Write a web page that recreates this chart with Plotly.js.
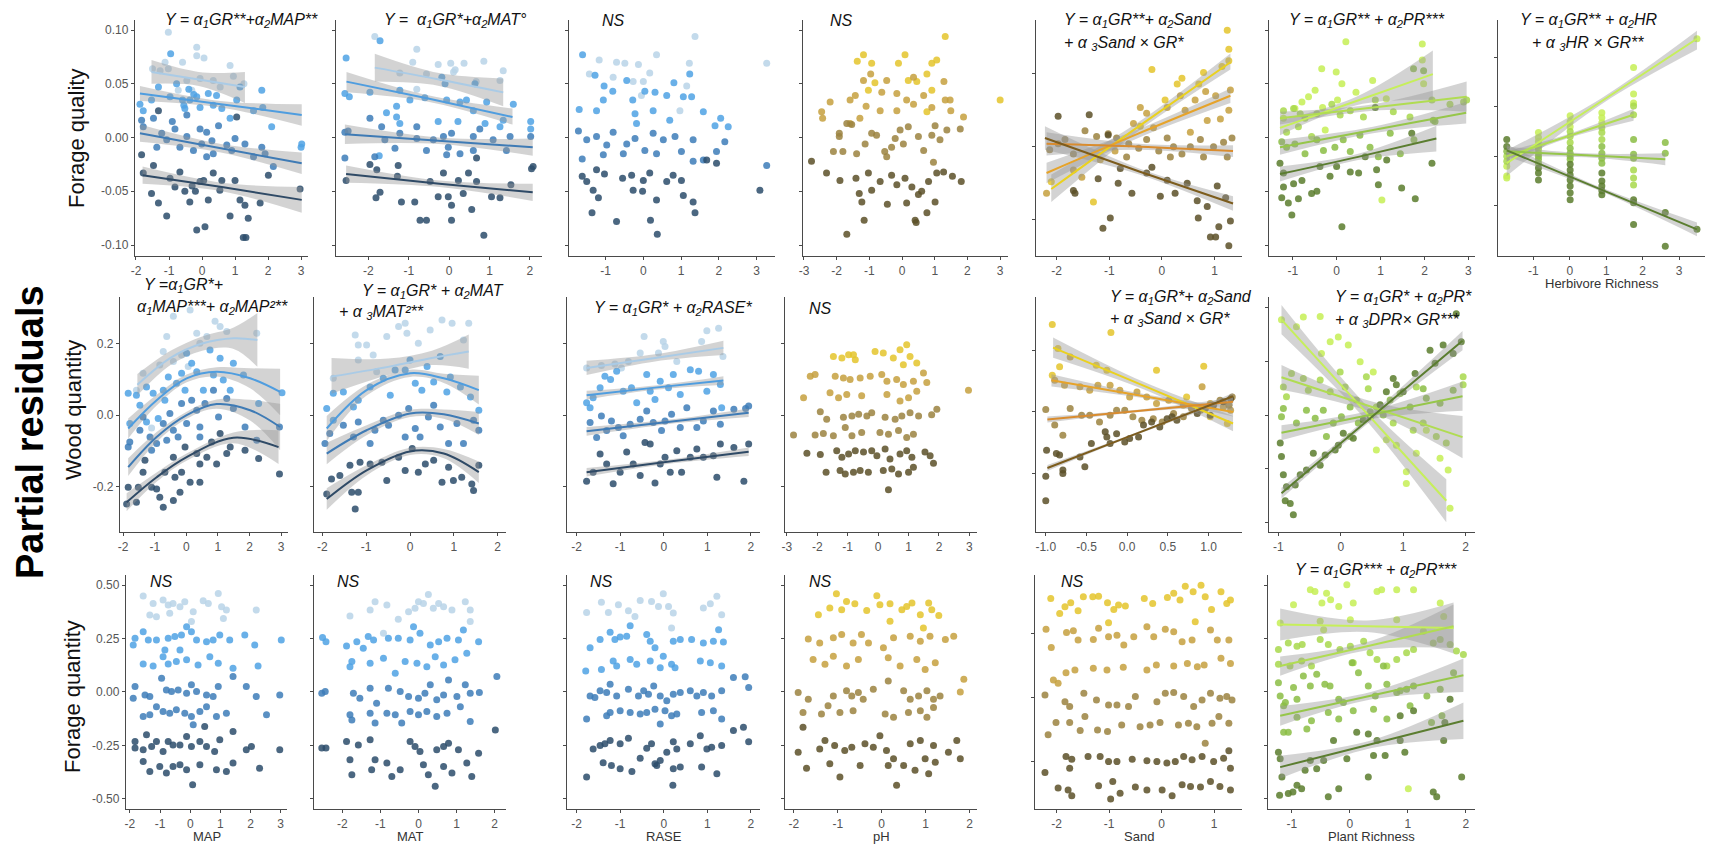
<!DOCTYPE html>
<html><head><meta charset="utf-8">
<script src="https://cdn.plot.ly/plotly-3.0.1.min.js"></script>
<style>html,body{margin:0;padding:0;background:#fff}#chart{width:1709px;height:846px}</style>
</head><body><div id="chart"></div>
<script>
// ===== DATA: partial residual points [x, y] per grazing (GR) group, 1 = lightest ... 4 = darkest =====
// Row 1 : Forage quality
const FQ_MAP_1=[[-1.02,.098],[-.16,.084],[-.16,.076],[.06,.074],[-.59,.07],[-1.12,.07],[-1.5,.064],[-1.27,.062],[-1.02,.064],[.85,.067],[.95,.057],[.34,.053],[-.46,.053],[-.06,.055],[-.31,.044],[1.27,.05],[-.72,.044],[.55,.047]];
const FQ_MAP_2=[[-.95,.078],[-1.88,.031],[-1.78,.025],[-1.53,.035],[-1.32,.047],[-.97,.038],[-.77,.05],[-.59,.035],[-.52,.027],[-.37,.035],[-.16,.038],[-.06,.028],[.19,.041],[.44,.039],[.85,.018],[1.05,.035],[1.81,.044],[1.84,.028],[2.11,.01],[3.02,-.006],[3,-.009],[1.56,.025],[1.15,.047],[.34,.03],[.6,.027],[-.4,.045],[-.25,.04],[-.55,.03]];
const FQ_MAP_3=[[-1.83,.016],[-1.78,.01],[-1.47,.018],[-1.22,.004],[-1.07,-.002],[-.82,.008],[-.67,-.009],[-.46,.001],[-.26,-.012],[-.01,-.006],[.14,.005],[.34,-.015],[.5,.011],[.75,-.007],[1,-.001],[1.3,-.006],[1.56,-.018],[1.81,-.009],[1.91,-.015],[2.16,-.027],[-.46,.021],[-.06,.008],[.14,-.018],[-1.37,-.009],[-.9,.015],[.3,-.003],[.9,-.012]];
const FQ_MAP_4=[[-1.83,-.016],[-1.78,-.033],[-1.47,-.026],[-1.53,-.052],[-1.32,-.061],[-1.07,-.073],[-.97,-.038],[-.82,-.046],[-.67,-.032],[-.52,-.05],[-.37,-.06],[-.16,-.086],[-.06,-.041],[.09,-.083],[.19,-.058],[.34,-.033],[.54,-.049],[.85,-.073],[1,-.04],[1.15,-.058],[1.3,-.063],[1.25,-.093],[1.33,-.093],[1.4,-.075],[1.76,-.061],[2.01,-.035],[2.97,-.048],[1.05,.019],[-1.32,.025],[-.3,-.045],[-.2,-.05],[.05,-.04],[.6,-.04]];
const FQ_MAT_1=[[-1.84,.094],[-.8,.082],[-.9,.07],[-.27,.068],[.04,.069],[.37,.069],[.86,.071],[1.34,.062],[-.56,.059],[.11,.061],[.15,.063],[-1.22,.06],[.67,.052],[1.26,.053],[-.8,.045]];
const FQ_MAT_2=[[-2.55,.074],[-1.71,.09],[-2.58,.041],[-2.47,.038],[-1.96,.042],[-1.22,.044],[-1.3,.029],[-.97,.035],[-.6,.037],[-.18,.056],[-.1,.05],[-.06,.035],[.27,.033],[.43,.035],[.64,.05],[.6,.025],[.93,.033],[1.26,.01],[1.34,.016],[1.59,.031],[-1.55,.023],[-1.3,.019],[-1.22,.013],[-.27,.015],[.22,.015],[.89,.013],[2.02,.015],[2.02,.008],[-1.73,-.017]];
const FQ_MAT_3=[[-2.58,.005],[-2.5,.006],[-1.96,.018],[-1.67,.01],[-1.59,-.002],[-1.34,-.01],[-1.22,.004],[-.8,.01],[-.8,-.001],[-.39,-.002],[-.14,.001],[-.02,-.009],[.06,.004],[.27,-.015],[.6,.001],[.76,.008],[1.09,-.002],[1.51,.001],[2.02,.001],[1.42,-.012],[.6,-.012],[-.56,-.012],[-.06,-.016],[-1.84,-.018],[-2.58,-.019]];
const FQ_MAT_4=[[-2.55,-.04],[-1.96,-.025],[-1.79,-.03],[-1.81,-.056],[-1.71,-.051],[-1.26,-.026],[-1.28,-.036],[-1.18,-.06],[-.85,-.06],[-.72,-.077],[-.56,-.077],[-.47,-.041],[-.27,-.055],[-.14,-.033],[-.02,-.055],[.06,-.077],[.06,-.063],[.23,-.04],[.35,-.052],[.48,-.033],[.56,-.067],[.68,-.041],[.86,-.091],[1.05,-.055],[1.26,-.056],[1.53,-.044],[2.04,-.029],[2.08,-.027],[.68,-.019]];
const FQ_RASE_1=[[1.37,.094],[-1.17,.072],[-.71,.07],[-.49,.069],[-.13,.068],[.35,.077],[1.22,.069],[-1.43,.059],[-.8,.056],[-.27,.052],[0,.052],[.17,.06],[-.05,.039],[1.15,.048],[3.27,.069],[.97,.025]];
const FQ_RASE_2=[[-1.61,.077],[-1.28,.058],[-1.04,.048],[-.81,.043],[-.44,.053],[-.28,.035],[.04,.043],[.31,.042],[.62,.039],[.81,.051],[1.06,.038],[1.23,.059],[1.28,.038],[-1.7,.026],[-1.24,.025],[-1.06,.035],[-.22,.022],[.26,.025],[1.59,.024],[1.9,.011],[2.05,.018],[2.25,.01],[-.18,.013],[.7,.016]];
const FQ_RASE_3=[[-1.72,.006],[-1.5,-.002],[-1.24,.001],[-.97,-.007],[-.8,.005],[-.44,-.006],[-.22,-.001],[.04,-.012],[.26,.004],[.53,-.002],[.84,.001],[1.01,-.013],[1.32,-.002],[2.16,-.004],[-1.62,-.02],[-1.06,-.016],[-.53,-.015],[.35,-.015],[1.32,-.022],[3.27,-.026],[1.59,-.021],[1.94,-.013]];
const FQ_RASE_4=[[-1.62,-.036],[-1.5,-.041],[-1.24,-.03],[-1.33,-.049],[-1.19,-.056],[-1.36,-.07],[-1.03,-.034],[-.71,-.078],[-.55,-.038],[-.31,-.035],[-.27,-.049],[0,-.04],[-.02,-.05],[.19,-.077],[.35,-.058],[.37,-.09],[.62,-.041],[.79,-.035],[1.01,-.04],[1.06,-.054],[1.32,-.06],[1.37,-.07],[1.68,-.021],[1.94,-.024],[3.09,-.049],[.17,-.033]];
const FQ_PH_1=[[1.32,.094],[-1.18,.077],[-1.37,.071],[-.93,.069],[.09,.077],[-.11,.069],[.91,.069],[1.06,.072],[.76,.059],[.45,.052],[-.83,.051],[-1.03,.044],[.91,.044],[.76,.024],[3,.035],[.19,.053]];
const FQ_PH_2=[[-2.46,.024],[-2.43,.018],[-2.2,.033],[-1.59,.035],[-1.43,.039],[-1.18,.053],[-.96,.059],[-.62,.042],[-.47,.053],[-.16,.041],[.14,.035],[.35,.056],[.66,.039],[1.28,.052],[1.32,.035],[1.47,.035],[-1.59,.013],[-1.29,.018],[-.67,.025],[-.16,.025],[.35,.031],[.91,.028],[1.49,.025],[1.88,.019],[-1.1,.029]];
const FQ_PH_3=[[-1.92,.004],[-1.92,.001],[-1.69,.013],[-1.54,.012],[-1.39,-.015],[-1.13,-.006],[-.93,.004],[-.78,.002],[-.53,-.013],[-.32,-.009],[-.21,-.001],[.04,-.006],[.19,.01],[.5,.001],[.66,-.012],[.91,.002],[1.16,-.002],[1.37,.007],[1.78,.008],[-2.1,-.013],[-1.81,-.013],[-.47,-.018],[.96,-.023],[1.01,.011],[-.06,.007]];
const FQ_PH_4=[[-2.77,-.022],[-2.31,-.033],[-1.9,-.04],[-1.41,-.038],[-1.31,-.052],[-1.23,-.06],[-1.16,-.077],[-1.69,-.09],[-1.03,-.033],[-.93,-.049],[-.67,-.041],[-.45,-.062],[-.32,-.035],[-.16,-.044],[.09,-.038],[.14,-.061],[.3,-.046],[.4,-.077],[.5,-.053],[.76,-.07],[.81,-.041],[1.01,-.06],[1.06,-.033],[1.27,-.032],[1.54,-.036],[1.81,-.041],[.43,-.079],[.6,-.05]];
const FQ_SAND_1=[[1.24,.08],[1.27,.067],[-.19,.053],[.29,.043],[.38,.047],[.79,.051],[.7,.043],[1.14,.055],[1.27,.059],[-1.3,-.038],[-.41,.014],[-2.1,-.024],[.06,.032]];
const FQ_SAND_2=[[-.41,.027],[-.29,.023],[.1,.027],[.35,.035],[.63,.032],[.83,.038],[1.02,.035],[1.11,.019],[1.3,.039],[1.27,.025],[-.54,.016],[-.16,.013],[.44,.025],[.86,.018],[-2.19,-.032],[-1.68,-.016],[-1.52,-.021],[-1.17,-.009],[-.89,-.003],[.54,.01]];
const FQ_SAND_3=[[-2.13,-.002],[-1.97,.002],[-1.84,.005],[-1.68,-.005],[-1.46,.011],[-1.24,.007],[-1.02,.009],[-.86,.006],[-.63,.002],[-.44,-.001],[-.29,.005],[-.06,-.003],[.1,.006],[.22,0],[.38,-.005],[.54,0],[.73,.005],[.98,0],[1.17,.003],[1.33,.006],[.16,-.007],[.79,-.007],[1.24,-.007],[-.67,-.007]];
const FQ_SAND_4=[[-1.97,.021],[-1.38,.022],[-1.02,.008],[-1.68,-.03],[-1.65,-.032],[-1.21,-.022],[-.98,-.049],[-1.12,-.056],[-.83,-.025],[-.57,-.032],[-.29,-.018],[-.03,-.034],[.1,-.023],[.25,-.032],[.48,-.025],[.67,-.037],[.69,-.049],[.86,-.041],[.92,-.062],[1.02,-.062],[1.08,-.055],[1.27,-.068],[1.3,-.051],[1.21,-.035],[1.05,-.027],[-.79,-.015],[-.19,-.014]];
const FQ_PR_1=[[.21,.089],[1.95,.087],[-.34,.064],[-.01,.061],[-.79,.033],[-.64,.038],[-.49,.044],[-.32,.028],[.02,.035],[.12,.05],[.44,.042],[.82,.053],[1.13,.036],[1.95,.072],[-.95,.027],[-.26,.007],[1.03,-.058],[-1.21,.018],[1.98,.05]];
const FQ_PR_2=[[-1.21,.025],[-.98,.027],[-.83,.022],[-.72,.018],[-.45,.022],[-.11,.031],[.08,.021],[.31,.025],[.61,.019],[.88,.035],[1.29,.024],[1.67,.019],[2.17,.035],[2.58,.031],[2.89,.033],[2.96,.035],[-1.14,.005],[-.87,.01],[-.57,.001]];
const FQ_PR_3=[[-1.25,-.004],[-1.14,-.009],[-.95,-.006],[-.72,-.015],[-.45,-.002],[-.3,-.012],[-.04,-.009],[.15,-.002],[.31,-.013],[.53,.002],[.76,-.009],[.95,-.018],[1.22,.004],[1.45,-.015],[1.76,-.002],[2.24,.015],[2.2,.016],[1.98,.062],[1.75,.064]];
const FQ_PR_4=[[-1.29,-.024],[-1.21,-.033],[-1.21,-.046],[-1.25,-.056],[-1.1,-.061],[-1.02,-.072],[-.98,-.043],[-.87,-.057],[-.79,-.04],[-.57,-.052],[-.45,-.05],[-.38,-.027],[-.15,-.036],[0,-.027],[.12,-.083],[.31,-.032],[.5,-.033],[.65,-.018],[.91,-.03],[.95,-.044],[1.14,-.021],[1.48,-.047],[1.71,.004],[1.79,-.057],[2.17,-.024],[.88,.028]];
const FQ_HR_1=[[-1.73,-.01],[-1.73,-.02],[-1.73,-.022],[-.86,.024],[-.86,.019],[-.86,.015],[.01,.041],[.01,.035],[.01,.03],[.88,.044],[.88,.039],[.88,.034],[1.75,.09],[1.75,.063],[1.75,.054],[3.49,.119]];
const FQ_HR_2=[[-1.73,0],[-1.73,-.005],[-.86,.01],[-.86,.007],[-.86,.003],[.01,.025],[.01,.02],[.01,.014],[.88,.029],[.88,.024],[.88,.017],[1.75,.051],[1.75,.042],[1.75,-.014],[1.75,-.022],[1.75,-.029]];
const FQ_HR_3=[[-1.73,.005],[-.86,0],[-.86,-.003],[-.86,-.007],[.01,.008],[.01,.003],[.01,0],[.01,-.003],[.88,.01],[.88,.003],[.88,-.002],[.88,-.007],[1.75,.017],[1.75,.002],[1.75,-.002],[2.62,.014],[2.62,.003]];
const FQ_HR_4=[[-1.73,.017],[-1.73,.01],[-.86,-.012],[-.86,-.017],[-.86,-.024],[.01,-.008],[.01,-.014],[.01,-.019],[.01,-.024],[.01,-.03],[.01,-.037],[.01,-.044],[.88,-.017],[.88,-.025],[.88,-.03],[.88,-.035],[.88,-.039],[1.75,-.044],[1.75,-.047],[1.75,-.069],[2.62,-.057],[2.62,-.091],[3.49,-.074]];
// Row 2 : Wood quantity
const WQ_MAP_1=[[-.62,.22],[-.41,.276],[.12,.294],[-.15,.168],[-.73,.178],[-.84,.14],[-1.37,.117],[-1.58,.07],[-.41,.15],[.33,.229],[.65,.22],[.91,.262],[1.28,.234],[1.07,.248],[2.23,.229],[.06,.136],[-1.1,-.036],[.43,.201]];
const WQ_MAP_2=[[-1.84,.061],[-1.58,.056],[-1.79,-.023],[-1.47,.028],[-1.26,.079],[-1.05,.061],[-.73,.07],[-.68,.042],[-.57,.107],[-.31,.089],[-.15,.117],[-.04,.07],[.01,.173],[.17,.145],[.33,.121],[.54,.07],[.75,.182],[.86,.112],[1.07,.159],[1.17,.098],[1.49,.145],[1.81,.112],[2.29,.033],[3.03,.063],[1.39,.07],[-.89,-.009],[-1.26,-.019]];
const WQ_MAP_3=[[-1.84,-.089],[-1.79,-.075],[-1.47,-.042],[-1.37,-.005],[-1.15,-.061],[-1.1,-.098],[-.94,-.079],[-.73,-.023],[-.52,.005],[-.41,-.042],[-.26,-.061],[-.15,.033],[.01,-.023],[.17,.042],[.33,.014],[.43,-.033],[.59,.033],[.86,.07],[1.02,-.005],[1.28,.047],[1.49,.019],[1.86,-.033],[2.23,-.07],[2.95,-.033],[.43,-.061],[-.62,-.07]];
const WQ_MAP_4=[[-1.89,-.248],[-1.84,-.201],[-1.58,-.243],[-1.52,-.201],[-1.37,-.159],[-1.31,-.126],[-1.1,-.201],[-.94,-.206],[-.84,-.229],[-.73,-.257],[-.68,-.159],[-.41,-.238],[-.36,-.173],[-.2,-.215],[-.15,-.159],[-.04,-.089],[.12,-.187],[.33,-.107],[.43,-.187],[.65,-.117],[.8,-.075],[.96,-.136],[1.07,-.051],[1.28,-.107],[1.39,-.089],[1.86,-.098],[2.29,-.121],[2.95,-.164],[.43,-.136],[-.41,-.117]];
const WQ_MAT_1=[[-1.25,.224],[-1.18,.196],[-1.18,.154],[-.99,.196],[-.53,.22],[-.26,.248],[-.11,.257],[-.07,.229],[.19,.201],[.46,.238],[.73,.266],[.96,.257],[1.22,.21],[1.34,.257],[-1.75,.103],[-.76,.121],[-.84,.168]];
const WQ_MAT_2=[[-1.9,.019],[-1.75,.061],[-1.52,.065],[-1.29,.023],[-1.18,.042],[-.91,.079],[-.61,.103],[-.45,.056],[-.34,.126],[-.11,.126],[0,.154],[.12,.089],[.27,.07],[.39,.136],[.54,.093],[.69,.164],[.84,.065],[.92,.107],[1.15,.079],[1.38,.051],[1.57,.014],[-1.75,-.014]];
const WQ_MAT_3=[[-1.94,-.079],[-1.83,-.051],[-1.52,-.028],[-1.29,-.061],[-1.18,-.019],[-.91,-.079],[-.8,-.042],[-.61,-.014],[-.49,-.028],[-.26,0],[-.11,-.061],[-.03,.019],[.12,-.037],[.23,-.061],[.42,-.005],[.54,.028],[.69,-.033],[.88,-.079],[1.07,-.023],[1.22,-.079],[1.45,-.014],[1.57,-.042]];
const WQ_MAT_4=[[-1.9,-.22],[-1.79,-.178],[-1.6,-.168],[-1.37,-.14],[-1.33,-.215],[-1.25,-.262],[-1.18,-.215],[-1.14,-.131],[-.91,-.136],[-.64,-.131],[-.53,-.182],[-.26,-.117],[-.11,-.154],[.05,-.093],[.19,-.159],[.35,-.136],[.54,-.126],[.73,-.187],[.88,-.145],[.99,-.182],[1.18,-.173],[1.41,-.192],[1.45,-.21],[1.57,-.14]];
const WQ_RASE_1=[[-1.77,.132],[-1.43,.139],[-1.12,.143],[-.81,.15],[-.54,.174],[-.45,.22],[-.12,.174],[-.01,.206],[.03,.192],[.3,.15],[.87,.206],[.99,.236],[1.26,.243],[1.36,.164],[-.97,.132]];
const WQ_RASE_2=[[-1.69,.021],[-1.62,.049],[-1.46,.077],[-1.35,.109],[-1.22,.1],[-1.08,.123],[-.93,.067],[-.74,.077],[-.62,.035],[-.39,.114],[-.31,.067],[-.2,.044],[-.08,.095],[.11,.077],[.22,.114],[.38,.058],[.61,.127],[.8,.123],[.99,.067],[1.14,.114],[1.3,.086],[1.33,.021],[-1.77,.035]];
const WQ_RASE_3=[[-1.69,-.02],[-1.54,-.062],[-1.43,-.002],[-1.31,-.043],[-1.2,-.016],[-1.04,-.034],[-.93,-.057],[-.77,-.025],[-.54,-.011],[-.39,.012],[-.24,-.02],[-.05,-.043],[.03,-.016],[.18,.003],[.38,-.034],[.53,.021],[.76,-.034],[.91,-.016],[1.14,.012],[1.3,-.025],[1.61,.017],[1.88,.019],[1.95,.026]];
const WQ_RASE_4=[[-1.77,-.184],[-1.62,-.159],[-1.46,-.108],[-1.31,-.136],[-1.16,-.191],[-1,-.159],[-.85,-.103],[-.7,-.136],[-.54,-.168],[-.43,-.076],[-.31,-.08],[-.2,-.189],[-.08,-.136],[.03,-.117],[.15,-.159],[.3,-.099],[.41,-.159],[.61,-.117],[.76,-.094],[.91,-.117],[1.14,-.113],[1.3,-.08],[1.22,-.173],[1.61,-.09],[1.84,-.184],[1.95,-.08]];
const WQ_PH_1=[[-1.47,.164],[-1.19,.16],[-.97,.169],[-.75,.155],[-.1,.178],[.17,.174],[.5,.16],[.72,.183],[.94,.197],[1.05,.164],[1.27,.146],[-.81,.169],[.83,.141]];
const WQ_PH_2=[[-2.23,.109],[-2.07,.114],[-1.41,.109],[-1.14,.104],[-.92,.1],[-.59,.104],[-.26,.109],[.12,.114],[.29,.095],[.61,.1],[.83,.086],[1.16,.095],[1.49,.118],[1.6,.091],[-2.45,.049],[-1.58,.063],[-1.3,.049],[-1.03,.058],[-.54,.054],[.29,.058],[.72,.04],[1,.049],[1.27,.067],[2.97,.07]];
const WQ_PH_3=[[-1.9,.01],[-1.69,-.011],[-1.14,-.006],[-.86,-.002],[-.64,.003],[-.37,-.002],[-.21,.007],[.23,-.006],[.56,-.011],[.78,-.002],[1.05,.007],[1.33,-.002],[1.93,.017],[1.76,.001],[-2.78,-.055],[-2.07,-.055],[-1.8,-.051],[-1.47,-.057],[-1.08,-.034],[-.86,-.057],[-.54,-.048],[.06,-.048],[.34,-.053],[.67,-.043],[.94,-.062],[1.16,-.053]];
const WQ_PH_4=[[-2.34,-.106],[-1.9,-.11],[-1.36,-.099],[-1.19,-.117],[-.97,-.108],[-.75,-.099],[-.48,-.103],[-.21,-.099],[-.04,-.113],[.23,-.094],[.39,-.122],[.72,-.108],[.94,-.099],[1.11,-.117],[1.54,-.103],[1.71,-.113],[1.82,-.134],[-1.71,-.159],[-1.25,-.154],[-1.08,-.164],[-.81,-.159],[-.59,-.154],[-.32,-.159],[.17,-.154],[.45,-.15],[.67,-.164],[1,-.159],[1.16,-.145],[.34,-.208]];
const WQ_SAND_1=[[-.92,.285],[-.2,.259],[-.85,.207],[-.83,.147],[-.38,.152],[-.25,.136],[.36,.136],[.73,.049],[.94,.149],[1.02,-.016],[1.23,-.038],[-.92,.12]];
const WQ_SAND_2=[[-.89,.103],[-.77,.087],[-.7,.179],[-.58,.082],[-.46,.071],[-.36,.087],[-.21,.087],[-.09,.071],[.03,.049],[.12,.065],[.24,.049],[.36,.027],[.51,.038],[.69,.022],[.92,.082],[1.02,.027],[1.18,.016],[1.27,.005]];
const WQ_SAND_3=[[-1,.008],[-.89,-.043],[-.79,-.076],[-.7,.011],[-.56,-.011],[-.46,-.011],[-.34,-.033],[-.21,-.011],[-.13,.005],[-.03,.005],[.07,-.016],[.18,-.027],[.32,-.022],[.43,-.033],[.57,-.005],[.69,-.016],[.79,.011],[.9,.005],[1.02,.022],[1.14,.038],[1.25,.022],[1.29,.049]];
const WQ_SAND_4=[[-1,-.21],[-.99,-.125],[-1,-.29],[-.87,-.136],[-.83,-.141],[-.79,-.19],[-.79,-.201],[-.58,-.147],[-.52,-.179],[-.44,-.103],[-.27,-.065],[-.25,-.082],[-.21,-.103],[-.13,-.071],[-.03,-.098],[.03,-.087],[.14,-.082],[.2,-.043],[.3,-.033],[.4,-.049],[.49,-.022],[.55,-.016],[.61,-.027],[.86,-.005],[.96,.011],[1.06,.022],[1.18,.033],[1.27,.043],[1.02,-.011]];
const WQ_PR_1=[[-.95,.177],[-.71,.164],[-.6,.182],[-.33,.183],[-.31,.114],[-.17,.136],[-.04,.145],[.12,.13],[.31,.099],[.52,.08],[.73,-.046],[1.05,-.105],[1.21,-.071],[1.37,-.028],[1.59,-.08],[1.72,-.102],[1.75,-.173],[1.05,-.127],[.89,-.056],[.57,-.065]];
const WQ_PR_2=[[-.92,.052],[-.87,.034],[-.79,.077],[-.6,.068],[-.52,.046],[-.33,.065],[-.17,.043],[-.01,.08],[.07,.052],[.25,.028],[.41,.071],[.44,.049],[.57,.015],[.84,-.015],[1.16,-.028],[1.32,-.015],[1.53,-.04],[1.69,-.052],[1.96,.071],[1.96,.056],[1.21,.052]];
const WQ_PR_3=[[-.95,-.003],[-.92,.012],[-.71,-.015],[-.55,.009],[-.41,-.006],[-.28,.009],[-.12,-.015],[.01,-.003],[.15,.015],[.28,-.015],[.47,.006],[.68,0],[.79,.028],[.95,.04],[1.11,.015],[1.37,.031],[1.59,.022],[1.8,.046],[.15,-.04],[-.23,-.04],[1.32,.049]];
const WQ_PR_4=[[-.97,-.052],[-.95,-.077],[-.92,-.111],[-.87,-.133],[-.89,-.159],[-.81,-.164],[-.76,-.185],[-.73,-.13],[-.65,-.111],[-.55,-.102],[-.44,-.071],[-.33,-.093],[-.25,-.074],[-.09,-.065],[-.04,-.056],[.04,-.034],[.2,-.043],[.36,-.009],[.47,-.003],[.63,.019],[.73,.043],[.84,.068],[.89,.056],[1,.043],[1.19,.077],[1.43,.12],[1.51,.096],[1.64,.13],[1.8,.114],[1.93,.136],[1.85,.188]];
// Row 3 : Forage quantity
const FT_MAP_1=[[-1.56,.449],[-1.34,.36],[-1.23,.414],[-.9,.43],[-.73,.407],[-.57,.414],[-.34,.399],[-.18,.422],[.1,.375],[.04,.329],[.43,.427],[.6,.414],[.93,.461],[1.04,.399],[1.2,.383],[1.1,.344],[2.19,.383],[-.68,.368],[-1.12,.352]];
const FT_MAP_2=[[-1.83,.251],[-1.89,.22],[-1.56,.282],[-1.39,.243],[-1.12,.243],[-.84,.196],[-.73,.251],[-.51,.259],[-.29,.266],[-.12,.305],[.04,.282],[.21,.243],[.54,.235],[.76,.243],[.98,.266],[1.31,.243],[1.81,.266],[2.14,.22],[3.02,.243],[-1.56,.131],[-1.23,.121],[-.9,.165],[-.73,.131],[-.46,.142],[-.12,.15],[.26,.126],[.65,.165],[.93,.134],[1.42,.111],[2.25,.121],[-.34,.196]];
const FT_MAP_3=[[-1.83,.025],[-1.89,-.03],[-1.5,-.014],[-1.34,-.022],[-.95,.064],[-.79,.009],[-.62,.002],[-.4,.009],[-.12,-.006],[.04,.033],[.21,.002],[.54,-.014],[.76,-.022],[.93,.025],[1.42,.072],[1.86,.025],[2.19,-.022],[2.97,-.014],[-1.56,-.115],[-1.34,-.107],[-1.12,-.069],[-.9,-.092],[-.68,-.1],[-.46,-.084],[-.18,-.1],[.04,-.115],[.32,-.092],[.54,-.069],[.87,-.115],[1.2,-.1],[2.53,-.107],[.1,-.154]];
const FT_MAP_4=[[-1.83,-.232],[-1.83,-.263],[-1.56,-.271],[-1.45,-.201],[-1.28,-.255],[-1.12,-.232],[-.9,-.279],[-.73,-.232],[-.57,-.248],[-.34,-.248],[-.12,-.209],[.04,-.255],[.32,-.232],[.54,-.255],[.81,-.279],[.98,-.224],[1.42,-.185],[1.86,-.271],[2.03,-.255],[2.97,-.271],[-1.56,-.326],[-1.34,-.372],[-1.01,-.349],[-.79,-.38],[-.57,-.349],[-.34,-.341],[-.12,-.364],[.08,-.435],[.32,-.341],[.48,-.162],[.87,-.364],[1.2,-.372],[1.42,-.333],[2.3,-.357]];
const FT_MAT_1=[[-1.8,.355],[-1.27,.383],[-1.14,.422],[-.83,.407],[-.53,.34],[-.26,.375],[-.09,.391],[0,.422],[.13,.414],[.26,.456],[.39,.391],[.53,.414],[.66,.399],[.88,.383],[1.23,.422],[1.36,.383],[1.36,.329],[-.92,.274]];
const FT_MAT_2=[[-2.52,.255],[-2.43,.235],[-1.89,.215],[-1.62,.235],[-1.45,.204],[-1.32,.259],[-1.18,.243],[-.79,.251],[-.53,.251],[-.22,.243],[-.13,.305],[.04,.274],[.31,.22],[.53,.235],[.75,.251],[1.05,.243],[1.18,.29],[1.27,.181],[1.58,.235],[-1.8,.118],[-1.75,.142],[-1.27,.134],[-.92,.157],[-.61,.087],[-.35,.142],[-.04,.134],[.22,.118],[.44,.165],[.66,.126],[.96,.15]];
const FT_MAT_3=[[-2.54,-.006],[-2.45,.002],[-1.71,-.006],[-1.54,-.03],[-1.27,.017],[-1.1,-.053],[-.79,.017],[-.48,.002],[-.26,-.022],[0,-.03],[.17,-.006],[.31,.033],[.48,-.037],[.66,-.014],[.79,.056],[1.01,-.022],[1.23,.033],[1.36,-.006],[1.6,-.003],[2.06,.072],[-1.8,-.107],[-1.75,-.131],[-1.27,-.1],[-1.14,-.146],[-.83,-.1],[-.61,-.107],[-.44,-.146],[-.22,-.092],[0,-.107],[.22,-.092],[.48,-.115],[.75,-.1],[1.1,-.069],[1.36,-.139]];
const FT_MAT_4=[[-2.54,-.263],[-2.43,-.263],[-1.89,-.232],[-1.8,-.318],[-1.75,-.388],[-1.58,-.248],[-1.27,-.224],[-1.23,-.364],[-1.14,-.318],[-.83,-.333],[-.7,-.396],[-.48,-.364],[-.22,-.232],[-.09,-.255],[.04,-.279],[.13,-.341],[.26,-.388],[.44,-.442],[.48,-.271],[.66,-.255],[.66,-.349],[.79,-.24],[.88,-.38],[1.05,-.271],[1.27,-.333],[1.4,-.396],[1.58,-.287],[2.02,-.178]];
const FT_RASE_1=[[-1.77,.372],[-1.43,.419],[-1.27,.372],[-1.04,.408],[-.81,.38],[-.66,.353],[-.54,.428],[-.28,.423],[-.12,.4],[-.01,.459],[.11,.4],[.22,.369],[.91,.392],[1.07,.412],[1.22,.447],[1.33,.361],[.18,.299]];
const FT_RASE_2=[[-1.79,.098],[-1.69,.206],[-1.46,.245],[-1.23,.279],[-1.12,.245],[-1,.257],[-.85,.26],[-.77,.31],[-.39,.268],[-.31,.237],[-.2,.206],[-.01,.167],[.22,.237],[.38,.245],[.64,.245],[.91,.229],[1.14,.237],[1.26,.291],[1.37,.233],[-1.43,.105],[-1.16,.144],[-1.08,.121],[-.77,.152],[-.62,.129],[-.31,.144],[-.08,.113],[.18,.129],[.26,.113],[.84,.144],[1.07,.136],[1.33,.121]];
const FT_RASE_3=[[-1.77,-.127],[-1.69,-.019],[-1.58,-.026],[-1.46,.005],[-1.31,-.003],[-1.23,.036],[-1.08,-.019],[-.81,.012],[-.58,-.019],[-.46,.005],[-.35,-.011],[-.23,.028],[-.08,-.019],[.07,-.042],[.22,-.011],[.38,-.003],[.61,.005],[.76,-.019],[.91,-.003],[1.1,-.019],[1.33,.005],[1.6,.067],[1.87,.071],[1.95,.02],[-1.31,-.112],[-1.23,-.096],[-1,-.088],[-.77,-.096],[-.54,-.104],[-.39,-.096],[-.2,-.081],[.03,-.088],[.18,-.112],[.3,-.104],[.87,-.096],[1.14,-.088],[1.33,-.127],[-.08,-.15]];
const FT_RASE_4=[[-1.77,-.398],[-1.62,-.267],[-1.46,-.251],[-1.35,-.243],[-1.23,-.228],[-1,-.243],[-.81,-.217],[-.54,-.31],[-.39,-.264],[-.28,-.243],[-.2,-.336],[-.08,-.321],[.07,-.282],[.22,-.233],[.3,-.267],[.38,-.352],[.22,-.36],[.61,-.243],[.84,-.205],[.99,-.267],[1.1,-.259],[1.33,-.251],[-1.39,-.332],[-1.2,-.344],[-1,-.36],[-.73,-.372],[-.16,-.344],[.87,-.352],[1.22,-.383],[1.6,-.181],[1.83,-.166],[1.95,-.233],[.21,-.437]];
const FT_PH_1=[[-1.44,.361],[-1.18,.392],[-1.03,.459],[-.91,.384],[-.8,.423],[-.61,.412],[-.34,.381],[-.11,.45],[-.04,.408],[.19,.412],[.19,.33],[.46,.384],[.57,.4],[.69,.416],[.88,.361],[1.07,.416],[1.14,.384],[1.3,.357],[.95,.299]];
const FT_PH_2=[[-1.67,.248],[-1.41,.229],[-1.1,.253],[-.91,.268],[-.65,.229],[-.46,.268],[-.3,.229],[.04,.206],[.27,.253],[.65,.26],[.88,.237],[1.1,.26],[1.45,.245],[1.64,.26],[-1.56,.152],[-1.29,.129],[-1.1,.167],[-.8,.121],[-.53,.152],[.15,.16],[.42,.121],[.8,.152],[.99,.105],[1.22,.136],[1.87,.059],[1.79,0]];
const FT_PH_3=[[-1.9,-.003],[-1.79,-.096],[-1.67,-.034],[-1.37,-.104],[-1.22,-.065],[-1.1,-.019],[-.8,.005],[-.68,-.019],[-.53,-.003],[-.42,-.034],[-.19,.012],[.15,.051],[.08,-.104],[.27,-.119],[.5,.005],[.65,-.034],[.84,-.019],[1.03,.005],[1.18,-.034],[1.33,-.019],[.61,-.096],[.88,-.088],[1.03,-.119],[-.95,-.096],[-.65,-.088],[1.18,-.073]];
const FT_PH_4=[[-1.9,-.282],[-1.71,-.357],[-1.79,-.166],[-1.41,-.267],[-1.29,-.228],[-1.18,-.336],[-1.07,-.251],[-.95,-.398],[-.84,-.274],[-.68,-.259],[-.49,-.344],[-.38,-.243],[-.19,-.259],[-.04,-.205],[.11,-.274],[.15,-.344],[.34,-.437],[.27,-.313],[.5,-.344],[.65,-.243],[.76,-.367],[.88,-.228],[.99,-.313],[1.07,-.383],[1.18,-.251],[1.22,-.329],[1.52,-.282],[1.71,-.228],[1.79,-.313]];
const FT_SAND_1=[[-2.11,.389],[-1.94,.33],[-1.84,.356],[-1.73,.372],[-1.59,.341],[-1.49,.396],[-1.31,.396],[-1.2,.398],[-1.03,.372],[-.91,.346],[-.82,.363],[-.69,.359],[-.33,.389],[-.17,.369],[.11,.393],[.23,.409],[.35,.383],[.45,.437],[.6,.415],[.75,.441],[.83,.396],[.95,.346],[1.13,.415],[1.24,.369],[1.31,.383],[-1.01,.294],[.64,.298]];
const FT_SAND_2=[[-2.2,.268],[-2.1,.197],[-1.81,.255],[-1.68,.262],[-1.59,.226],[-1.3,.228],[-1.2,.272],[-1.01,.239],[-.85,.245],[-.72,.206],[-.53,.239],[-.28,.278],[-.15,.239],[.07,.268],[.23,.258],[.39,.219],[.58,.226],[.93,.265],[1.06,.226],[1.28,.226],[-1.82,.098],[-1.65,.108],[-1.3,.115],[-1.04,.108],[-.73,.119],[-.28,.108],[-.1,.128],[.23,.124],[.49,.134],[.68,.121],[.81,.128],[1.13,.154],[1.31,.134],[-2.06,.069],[-1.97,.056]];
const FT_SAND_3=[[-2.22,.01],[-1.84,-.016],[-1.75,-.035],[-1.48,.017],[-1.24,-.009],[-1.01,-.029],[-.85,-.029],[-.63,-.035],[-.5,.004],[-.09,-.016],[.07,.017],[.23,.02],[.42,.004],[.61,-.035],[.77,-.009],[.93,.017],[1.11,-.003],[1.24,.004],[1.34,-.009],[-2.16,-.146],[-2.01,-.098],[-1.75,-.098],[-1.55,-.129],[-1.46,-.074],[-1.22,-.127],[-1.03,-.133],[-.76,-.107],[-.41,-.114],[-.22,-.107],[-.03,-.098],[.32,-.107],[.51,-.101],[.67,-.114],[.96,-.101],[1.09,-.074],[1.28,-.101],[.83,-.179]];
const FT_SAND_4=[[-2.22,-.294],[-1.82,-.231],[-1.71,-.242],[-1.75,-.277],[-1.4,-.231],[-1.17,-.231],[-1.01,-.251],[-.85,-.251],[-.56,-.242],[-.28,-.248],[-.09,-.251],[.1,-.257],[.26,-.251],[.42,-.231],[.58,-.244],[.77,-.231],[.99,-.251],[1.18,-.238],[1.28,-.208],[1.31,-.277],[-1.97,-.355],[-1.78,-.362],[-1.71,-.385],[-1.2,-.346],[-.97,-.398],[-.79,-.375],[-.5,-.351],[-.28,-.362],[.01,-.362],[.2,-.385],[.39,-.342],[.55,-.349],[.74,-.351],[.93,-.329],[1.11,-.349],[1.31,-.362],[-.93,-.329]];
const FT_PR_1=[[-.97,.408],[-.68,.478],[-.6,.47],[-.4,.462],[-.48,.416],[-.33,.431],[-.19,.4],[-.05,.501],[.06,.416],[.47,.47],[.55,.478],[.81,.478],[1.1,.478],[1.56,.416],[-.51,.33],[-.45,.291],[.01,.338],[.81,.338],[1.27,.284],[-1.2,.322],[1.62,.353],[1.01,-.453]];
const FT_PR_2=[[-1.23,.198],[-1.06,.229],[-.91,.214],[-.82,.222],[-1.23,.129],[-1.03,.121],[-.83,.144],[-.66,.121],[-.51,.245],[-.37,.222],[-.17,.198],[.01,.214],[.06,.136],[.24,.237],[.35,.183],[.47,.152],[.64,.121],[.81,.152],[.98,.183],[1.1,.198],[1.44,.229],[1.56,.245],[1.73,.222],[1.84,.191],[1.96,.175]];
const FT_PR_3=[[-1.23,.043],[-1.2,-.019],[-1.14,-.065],[-1.11,-.05],[-.97,.02],[-.91,-.034],[-.8,.074],[-.68,.028],[-.57,.082],[-.43,.036],[-.34,.028],[-.19,-.034],[-.11,-.05],[.04,.136],[.15,.09],[.32,.028],[.44,-.019],[.58,.121],[.64,.036],[.81,-.003],[.98,.012],[1.1,.028],[1.33,-.019],[1.56,.012],[1.79,.09],[-1.14,-.189],[-1.06,-.189],[-.91,-.119],[-.74,-.174],[-.66,-.135],[-.37,-.096],[-.19,-.127],[.06,-.088],[.41,-.081],[.64,-.127],[.87,.005],[1.04,-.065],[1.41,-.143],[1.59,-.112]];
const FT_PR_4=[[-1.23,-.282],[-1.2,-.313],[-1.17,-.398],[-1.21,-.484],[-1.06,-.476],[-.98,-.468],[-.91,-.437],[-.83,-.453],[-.77,-.367],[-.68,-.321],[-.57,-.36],[-.45,-.321],[-.37,-.491],[-.28,-.228],[-.19,-.453],[-.05,-.313],[.12,-.189],[.32,-.398],[.32,-.197],[.47,-.228],[.61,-.298],[.87,-.228],[.87,-.112],[.95,-.282],[1.1,-.088],[1.44,-.468],[1.5,-.491],[1.62,-.228],[1.64,-.143],[1.73,-.034],[1.93,-.398],[.41,-.298]];

// ===== FITTED LINES: [group, x, fitted y, lower CI, upper CI] =====
const FQ_MAP_FIT=[[1,[-1.53,-.1,1.3],[.061,.054,.047],[.05,.048,.032],[.072,.061,.061]],[2,[-1.88,.57,3.02],[.041,.031,.021],[.034,.028,.011],[.048,.034,.031]],[3,[-1.88,.57,3.02],[.004,-.01,-.024],[-.004,-.014,-.034],[.012,-.006,-.014]],[4,[-1.8,.6,3.02],[-.035,-.046,-.058],[-.043,-.05,-.07],[-.027,-.042,-.046]]];
const FQ_MAT_FIT=[[1,[-1.84,-.25,1.34],[.065,.054,.042],[.052,.048,.029],[.078,.06,.055]],[2,[-2.54,-.49,1.57],[.052,.036,.019],[.042,.033,.012],[.061,.039,.027]],[3,[-2.58,-.26,2.07],[.003,-.003,-.009],[-.006,-.006,-.017],[.012,0,-.001]],[4,[-2.55,-.24,2.07],[-.034,-.043,-.051],[-.042,-.046,-.059],[-.026,-.04,-.043]]];
const FQ_SAND_FIT=[[1,[-2.1,-.4,1.3],[-.029,.015,.058],[-.038,.012,.053],[-.019,.018,.064]],[2,[-2.19,-.45,1.3],[-.018,.009,.035],[-.025,.006,.03],[-.011,.012,.04]],[3,[-2.19,-.42,1.35],[.002,0,-.003],[-.006,-.002,-.007],[.01,.002,.001]],[4,[-2.22,-.43,1.35],[.006,-.017,-.039],[-.002,-.019,-.044],[.014,-.015,-.034]]];
const FQ_PR_FIT=[[1,[-1.29,.45,2.19],[.009,.034,.059],[.002,.03,.035],[.016,.038,.081]],[2,[-1.29,.83,2.96],[.018,.028,.038],[.012,.025,.024],[.024,.031,.052]],[3,[-1.29,.83,2.95],[-.009,.007,.023],[-.016,.004,.013],[-.002,.01,.033]],[4,[-1.29,.49,2.27],[-.034,-.018,-.001],[-.041,-.021,-.013],[-.027,-.015,.011]]];
const FQ_HR_FIT=[[1,[-1.73,.88,3.49],[-.007,.056,.119],[-.02,.053,.108],[.006,.059,.127]],[2,[-1.73,.01,1.75],[0,.021,.042],[-.005,.019,.036],[.005,.023,.048]],[3,[-1.73,.45,2.62],[.005,.001,-.003],[0,-.001,-.009],[.01,.003,.003]],[4,[-1.73,.88,3.49],[.006,-.034,-.074],[0,-.036,-.081],[.012,-.032,-.067]]];
const WQ_MAP_FIT=[[1,[-1.55,-.5,.5,1.5,2.25],[.085,.16,.2,.215,.21],[.055,.14,.18,.185,.135],[.115,.18,.22,.245,.285]],[2,[-1.84,-.94,.01,.96,2.02,2.97],[-.037,.042,.103,.121,.103,.065],[-.065,.027,.092,.108,.075,0],[-.009,.057,.114,.134,.131,.13]],[3,[-1.84,-.94,.01,.96,2.02,2.97],[-.145,-.061,0,.031,.014,-.033],[-.17,-.075,-.01,.018,-.015,-.098],[-.12,-.047,.01,.044,.043,.032]],[4,[-1.89,-.94,.01,1.49,2.92],[-.243,-.173,-.117,-.063,-.089],[-.268,-.186,-.127,-.078,-.136],[-.218,-.16,-.107,-.048,-.042]]];
const WQ_MAT_FIT=[[1,[-1.79,-.5,.5,1.34],[.108,.135,.16,.178],[.06,.112,.14,.13],[.16,.158,.18,.225]],[2,[-1.9,-.99,0,.77,1.57],[-.037,.07,.117,.103,.07],[-.072,.055,.107,.09,.03],[-.002,.085,.127,.116,.11]],[3,[-1.9,-.99,0,.77,1.57],[-.107,-.042,.005,.003,-.023],[-.137,-.056,-.005,-.01,-.055],[-.077,-.028,.015,.016,.009]],[4,[-1.9,-.99,0,.77,1.57],[-.234,-.154,-.101,-.107,-.159],[-.264,-.168,-.111,-.12,-.189],[-.204,-.14,-.091,-.094,-.129]]];
const WQ_RASE_FIT=[[1,[-1.77,-.2,1.37],[.132,.16,.188],[.112,.15,.168],[.152,.17,.208]],[2,[-1.77,-.2,1.37],[.056,.077,.097],[.044,.071,.085],[.068,.083,.109]],[3,[-1.77,.09,1.95],[-.045,-.019,.007],[-.057,-.025,-.005],[-.033,-.013,.019]],[4,[-1.77,.09,1.95],[-.159,-.13,-.102],[-.171,-.136,-.114],[-.147,-.124,-.09]]];
const WQ_SAND_FIT=[[1,[-.91,.2,1.3],[.21,.086,-.038],[.177,.074,-.063],[.243,.098,-.013]],[2,[-.93,.19,1.3],[.103,.052,0],[.083,.045,-.015],[.123,.059,.015]],[3,[-.98,.16,1.3],[-.025,.004,.033],[-.035,0,.02],[-.015,.008,.046]],[4,[-.98,.16,1.3],[-.183,-.066,.051],[-.193,-.07,.04],[-.173,-.062,.062]]];
const WQ_PR_FIT=[[1,[-.95,.37,1.69],[.177,.009,-.159],[.15,-.005,-.199],[.204,.023,-.119]],[2,[-.95,.5,1.95],[.07,.015,-.041],[.047,.005,-.08],[.093,.025,-.002]],[3,[-.95,.5,1.95],[-.033,.001,.035],[-.047,-.007,.008],[-.019,.009,.062]],[4,[-.95,.5,1.95],[-.145,-.003,.138],[-.155,-.009,.12],[-.135,.003,.156]]];
const FT_PR_FIT=[[1,[-1.2,.3,1.79],[.315,.307,.299],[.24,.28,.18],[.39,.334,.418]],[2,[-1.2,.3,1.79],[.121,.214,.307],[.076,.195,.205],[.166,.233,.409]],[3,[-1.2,.38,1.96],[-.112,-.017,.078],[-.158,-.035,0],[-.066,.001,.156]],[4,[-1.2,.38,1.96],[-.352,-.244,-.135],[-.405,-.262,-.22],[-.299,-.226,-.05]]];

// ===== TEXT =====
const ROW_TITLES=['Forage quality','Wood quantity','Forage quantity'];
const X_TITLES=['MAP','MAT','RASE','pH','Sand','Plant Richness','Herbivore Richness'];
const FORMULAS=[
 ['Y = α<sub>1</sub>GR**+α<sub>2</sub>MAP**',163,21],['Y =  α<sub>1</sub>GR*+α<sub>2</sub>MAT°',382,21],['NS',600,21],['NS',828,21],
 ['Y = α<sub>1</sub>GR**+ α<sub>2</sub>Sand',1062,21],['+ α <sub>3</sub>Sand × GR*',1062,43],
 ['Y = α<sub>1</sub>GR** + α<sub>2</sub>PR***',1287,21],['Y = α<sub>1</sub>GR** + α<sub>2</sub>HR',1518,21],['+ α <sub>3</sub>HR × GR**',1530,43],
 ['Y =α<sub>1</sub>GR*+',142,286],['α<sub>1</sub>MAP***+ α<sub>2</sub>MAP²**',135,307],
 ['Y = α<sub>1</sub>GR* + α<sub>2</sub>MAT',360,291],['+ α <sub>3</sub>MAT²**',337,312],
 ['Y = α<sub>1</sub>GR* + α<sub>2</sub>RASE*',592,308],['NS',807,308],
 ['Y = α<sub>1</sub>GR*+ α<sub>2</sub>Sand',1108,297],['+ α <sub>3</sub>Sand × GR*',1108,319],
 ['Y = α<sub>1</sub>GR* + α<sub>2</sub>PR*',1333,297],['+ α <sub>3</sub>DPR× GR***',1333,320],
 ['NS',148,581],['NS',335,581],['NS',588,581],['NS',807,581],['NS',1059,581],
 ['Y = α<sub>1</sub>GR*** + α<sub>2</sub>PR***',1293,570]
];

// ===== PANEL GEOMETRY (pixel box [left,right,top,bottom]) =====
const W=1709,H=846;
const PAL={
 blue:{pt:['#b9d3e8','#4fa2e4','#3d7db8','#2c4c6b'],ln:['#aacbe6','#4f9ddf','#3f7bb5','#2f4a66']},
 soil:{pt:['#e4c42c','#c6a03e','#9b823f','#5c5028'],ln:['#ead11f','#e6a32a','#d98c2f','#7c5c1d']},
 green:{pt:['#c5ee55','#a8d84c','#8bbd44','#5a7c2d'],ln:['#c6ef5a','#b0dc52','#96c64a','#5b7d30']}
};
const R1Y=[-.1102,.1093],R1T=[-.1,-.05,0,.05,.1],R2Y=[-.326,.33],R2T=[-.2,0,.2],R3Y=[-.548,.547],R3T=[-.5,-.25,0,.25,.5];
const I=(a,b)=>{const r=[];for(let v=a;v<=b;v++)r.push(v);return r;};
const PANELS=[
 {pts:[FQ_MAP_1,FQ_MAP_2,FQ_MAP_3,FQ_MAP_4],fit:FQ_MAP_FIT,pal:'blue',px:[135,308,20,256],xr:[-2.03,3.21],xt:I(-2,3),yr:R1Y,yt:R1T,yl:true,yd:2},
 {pts:[FQ_MAT_1,FQ_MAT_2,FQ_MAT_3,FQ_MAT_4],fit:FQ_MAT_FIT,pal:'blue',px:[336,542,20,256],xr:[-2.8,2.3],xt:I(-2,2),yr:R1Y,yt:R1T},
 {pts:[FQ_RASE_1,FQ_RASE_2,FQ_RASE_3,FQ_RASE_4],pal:'blue',px:[569,775,20,256],xr:[-1.97,3.49],xt:I(-1,3),yr:R1Y,yt:R1T},
 {pts:[FQ_PH_1,FQ_PH_2,FQ_PH_3,FQ_PH_4],pal:'soil',px:[803,1008,20,256],xr:[-3.03,3.24],xt:I(-3,3),yr:R1Y,yt:R1T},
 {pts:[FQ_SAND_1,FQ_SAND_2,FQ_SAND_3,FQ_SAND_4],fit:FQ_SAND_FIT,pal:'soil',px:[1036,1242,20,256],xr:[-2.39,1.52],xt:I(-2,1),yr:[-.075,.087],yt:[-.05,0,.05]},
 {pts:[FQ_PR_1,FQ_PR_2,FQ_PR_3,FQ_PR_4],fit:FQ_PR_FIT,pal:'green',px:[1269,1475,20,256],xr:[-1.54,3.15],xt:I(-1,3),yr:R1Y,yt:R1T},
 {pts:[FQ_HR_1,FQ_HR_2,FQ_HR_3,FQ_HR_4],fit:FQ_HR_FIT,pal:'green',px:[1498,1705,20,256],xr:[-1.97,3.71],xt:I(-1,3),yr:[-.101,.138],yt:[-.05,0,.05,.1],xtitle:6},
 {pts:[WQ_MAP_1,WQ_MAP_2,WQ_MAP_3,WQ_MAP_4],fit:WQ_MAP_FIT,pal:'blue',px:[120,288,297,532],xr:[-2.1,3.22],xt:I(-2,3),yr:R2Y,yt:R2T,yl:true,yd:1},
 {pts:[WQ_MAT_1,WQ_MAT_2,WQ_MAT_3,WQ_MAT_4],fit:WQ_MAT_FIT,pal:'blue',px:[314,506,297,532],xr:[-2.19,2.19],xt:I(-2,2),yr:R2Y,yt:R2T},
 {pts:[WQ_RASE_1,WQ_RASE_2,WQ_RASE_3,WQ_RASE_4],fit:WQ_RASE_FIT,pal:'blue',px:[567,760,297,532],xr:[-2.22,2.21],xt:I(-2,2),yr:R2Y,yt:R2T},
 {pts:[WQ_PH_1,WQ_PH_2,WQ_PH_3,WQ_PH_4],pal:'soil',px:[785,977,297,532],xr:[-3.06,3.25],xt:I(-3,3),yr:R2Y,yt:R2T},
 {pts:[WQ_SAND_1,WQ_SAND_2,WQ_SAND_3,WQ_SAND_4],fit:WQ_SAND_FIT,pal:'soil',px:[1036,1242,297,532],xr:[-1.12,1.41],xt:[-1,-.5,0,.5,1],xd:1,yr:[-.392,.375],yt:R2T},
 {pts:[WQ_PR_1,WQ_PR_2,WQ_PR_3,WQ_PR_4],fit:WQ_PR_FIT,pal:'green',px:[1269,1475,297,532],xr:[-1.15,2.15],xt:I(-1,2),yr:[-.217,.219],yt:[-.2,-.1,0,.1,.2]},
 {pts:[FT_MAP_1,FT_MAP_2,FT_MAP_3,FT_MAP_4],pal:'blue',px:[126,287,575,809],xr:[-2.13,3.21],xt:I(-2,3),yr:R3Y,yt:R3T,yl:true,yd:2,xtitle:0},
 {pts:[FT_MAT_1,FT_MAT_2,FT_MAT_3,FT_MAT_4],pal:'blue',px:[314,506,575,809],xr:[-2.745,2.3],xt:I(-2,2),yr:R3Y,yt:R3T,xtitle:1},
 {pts:[FT_RASE_1,FT_RASE_2,FT_RASE_3,FT_RASE_4],pal:'blue',px:[567,760,575,809],xr:[-2.22,2.21],xt:I(-2,2),yr:R3Y,yt:R3T,xtitle:2},
 {pts:[FT_PH_1,FT_PH_2,FT_PH_3,FT_PH_4],pal:'soil',px:[785,977,575,809],xr:[-2.2,2.17],xt:I(-2,2),yr:R3Y,yt:R3T,xtitle:3},
 {pts:[FT_SAND_1,FT_SAND_2,FT_SAND_3,FT_SAND_4],pal:'soil',px:[1035,1242,575,809],xr:[-2.41,1.53],xt:I(-2,1),yr:[-.437,.481],yt:[-.25,0,.25],xtitle:4},
 {pts:[FT_PR_1,FT_PR_2,FT_PR_3,FT_PR_4],fit:FT_PR_FIT,pal:'green',px:[1268,1475,575,809],xr:[-1.41,2.16],xt:I(-1,2),yr:R3Y,yt:R3T,xtitle:5}
];

const TICKFONT={family:'Liberation Sans, Arial, sans-serif',size:12,color:'#555'};
function axis(dom,range,tv,dec,show){
 return {domain:dom,range:range,autorange:false,tickmode:'array',tickvals:tv,ticktext:tv.map(v=>v.toFixed(dec)),
  showticklabels:show,showline:true,linecolor:'#4a4a4a',linewidth:1.2,ticks:'outside',ticklen:3,tickwidth:1,
  tickcolor:'#4a4a4a',showgrid:false,zeroline:false,tickfont:TICKFONT,fixedrange:true};
}
const traces=[];
const layout={width:W,height:H,margin:{l:0,r:0,t:0,b:0},paper_bgcolor:'#fff',plot_bgcolor:'rgba(0,0,0,0)',showlegend:false,annotations:[]};
const px2x=v=>v/W, px2y=v=>1-v/H;
function ann(text,x,y,o){layout.annotations.push(Object.assign({text:text,x:px2x(x),y:px2y(y),xref:'paper',yref:'paper',showarrow:false},o));}

PANELS.forEach((p,i)=>{
 const s=i===0?'':String(i+1), xa='x'+s, ya='y'+s;
 const [l,r,t,b]=p.px;
 layout['xaxis'+s]=Object.assign(axis([px2x(l),px2x(r)],p.xr,p.xt,p.xd||0,true),{anchor:ya});
 layout['yaxis'+s]=Object.assign(axis([px2y(b),px2y(t)],p.yr,p.yt,p.yd||0,!!p.yl),{anchor:xa});
 const pal=PAL[p.pal];
 p.pts.forEach((g,k)=>traces.push({type:'scatter',mode:'markers',xaxis:xa,yaxis:ya,x:g.map(d=>d[0]),y:g.map(d=>d[1]),
   marker:{size:7,color:pal.pt[k],opacity:.85,line:{width:0}},hoverinfo:'skip'}));
 (p.fit||[]).forEach(f=>{
   traces.push({type:'scatter',mode:'lines',xaxis:xa,yaxis:ya,x:f[1],y:f[3],line:{width:0,shape:'spline',color:'rgba(0,0,0,0)'},hoverinfo:'skip'});
   traces.push({type:'scatter',mode:'lines',xaxis:xa,yaxis:ya,x:f[1],y:f[4],line:{width:0,shape:'spline',color:'rgba(0,0,0,0)'},fill:'tonexty',fillcolor:'rgba(150,150,150,0.42)',hoverinfo:'skip'});
 });
 (p.fit||[]).forEach(f=>traces.push({type:'scatter',mode:'lines',xaxis:xa,yaxis:ya,x:f[1],y:f[2],
   line:{width:2,color:pal.ln[f[0]-1],shape:'spline'},hoverinfo:'skip'}));
 if(p.xtitle!==undefined){
   ann(X_TITLES[p.xtitle],(l+r)/2,b+27,{xanchor:'center',yanchor:'middle',font:{family:'Liberation Sans, Arial, sans-serif',size:13,color:'#333'}});
 }
});

FORMULAS.forEach(f=>ann('<i>'+f[0]+'</i>',f[1],f[2],{xanchor:'left',yanchor:'middle',font:{family:'Liberation Sans, Arial, sans-serif',size:16,color:'#111'}}));
[[77,139],[74,410],[72,697]].forEach((c,k)=>ann(ROW_TITLES[k],c[0],c[1],{xanchor:'center',yanchor:'middle',textangle:-90,font:{family:'Liberation Sans, Arial, sans-serif',size:22,color:'#111'}}));
ann('<b>Partial residuals</b>',30,432,{xanchor:'center',yanchor:'middle',textangle:-90,font:{family:'Liberation Sans, Arial, sans-serif',size:38,color:'#000'}});

Plotly.newPlot('chart',traces,layout,{staticPlot:true,displayModeBar:false});
</script></body></html>
